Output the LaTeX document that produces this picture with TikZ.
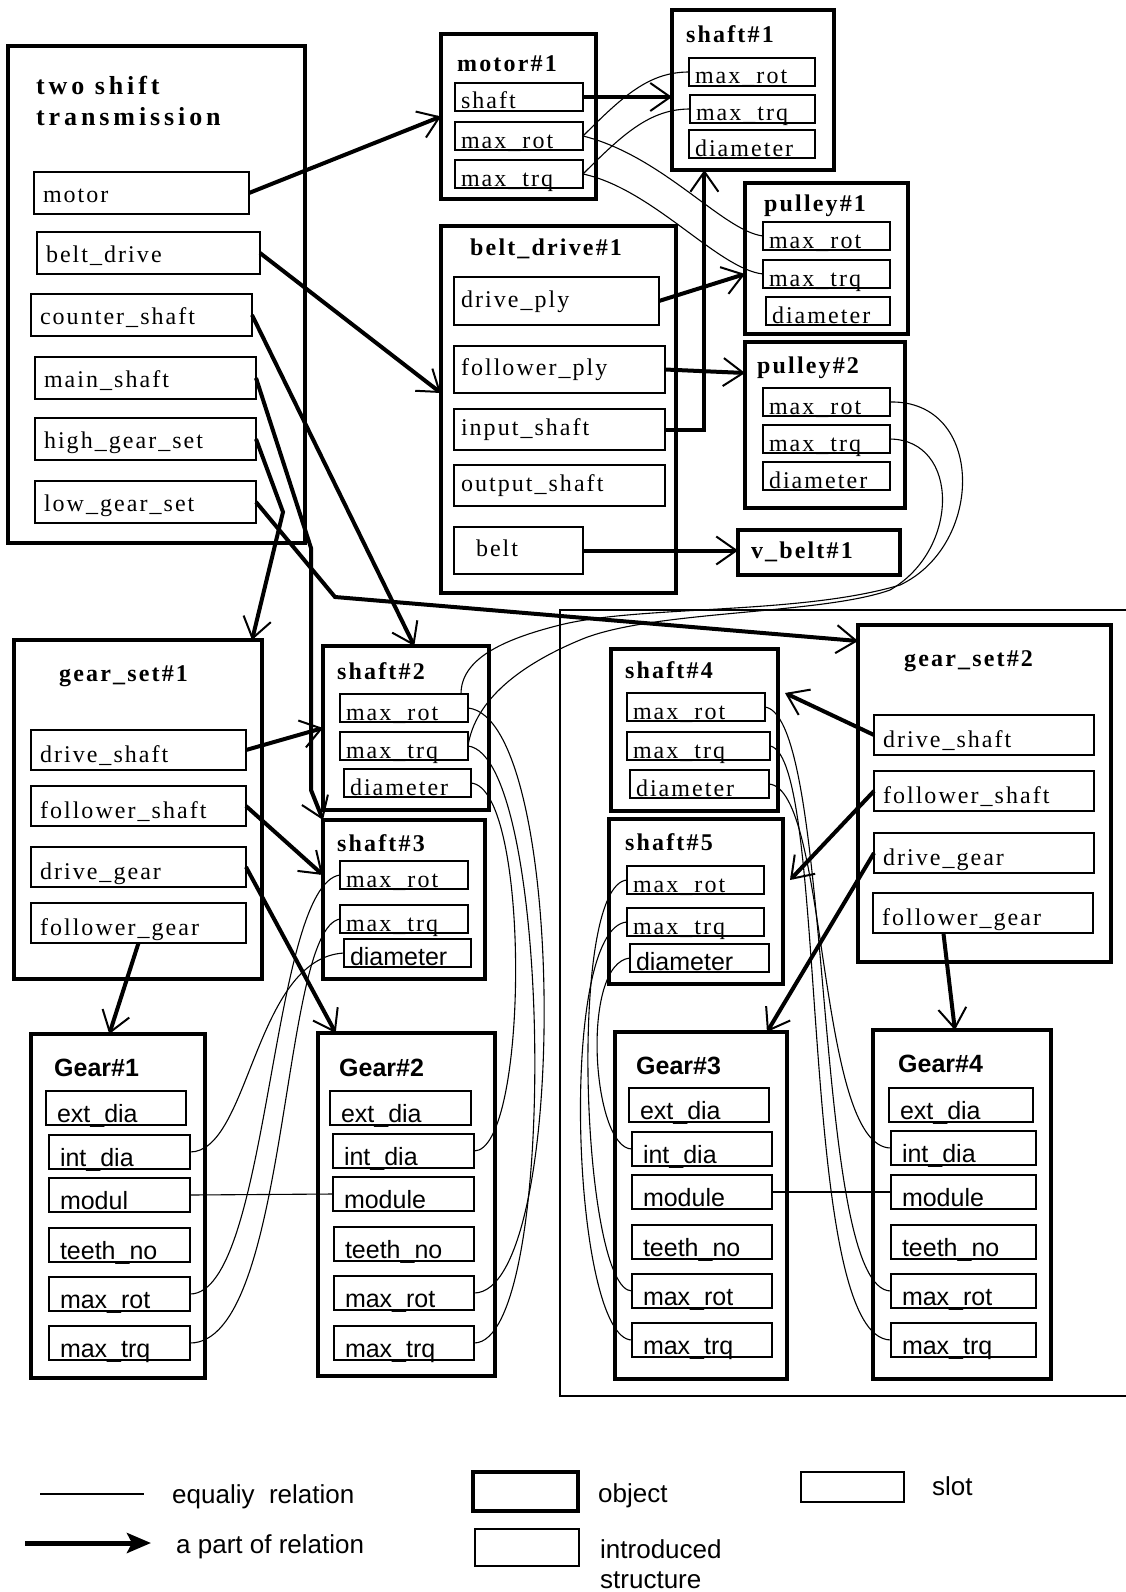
\documentclass[tikz,border=0pt]{standalone}
\usepackage{fontspec}
\newfontfamily\slotserif[LetterSpace=8.5]{Liberation Serif}
\newfontfamily\titleserif[LetterSpace=9]{Liberation Serif}
\newfontfamily\bigserif[LetterSpace=15]{Liberation Serif}
\newfontfamily\gearsans{Liberation Sans}
\usetikzlibrary{arrows.meta,calc,positioning}

\begin{document}
\begin{tikzpicture}[x=1pt,y=-1pt,
  obj/.style={draw,line width=4.5pt,inner sep=0pt,outer sep=0pt,anchor=north west},
  objtitle/.style={anchor=base west,inner sep=0pt,font=\titleserif\bfseries\fontsize{24}{28}\selectfont},
  geartitle/.style={anchor=base west,inner sep=0pt,font=\gearsans\bfseries\fontsize{25}{30}\selectfont},
  slot/.style={draw,line width=1.3pt,inner xsep=6pt,inner ysep=0pt,outer sep=0pt,anchor=north west,align=left,font=\slotserif\fontsize{24}{28}\selectfont},
  sslot/.style={slot,text height=26pt,text depth=2pt},
  tslot/.style={slot,inner xsep=9pt,text height=30pt,text depth=12pt},
  bslot/.style={slot,inner xsep=7pt,text height=18pt,text depth=6pt},
  gsslot/.style={slot,inner xsep=9pt,text height=32pt,text depth=8pt},
  gslot/.style={slot,inner xsep=11pt,text height=31pt,text depth=3pt,font=\gearsans\fontsize{25}{30}\selectfont},
  sansdia/.style={font=\gearsans\fontsize{25}{30}\selectfont},
  partof/.style={line width=4pt,-{Straight Barb[length=20pt,width=28pt,line width=2pt]}},
  eq/.style={line width=1.1pt},
  introframe/.style={line width=2pt},
  legtext/.style={anchor=base west,inner sep=0pt,font=\gearsans\fontsize{26}{30}\selectfont}]
  \useasboundingbox (0,0) rectangle (1126,1592);

  % two shift transmission
  \node[obj,minimum width=297pt,minimum height=497pt] (tst) at (8,46) {};
  \node[anchor=base west,inner sep=0pt,align=left,font=\bigserif\bfseries\fontsize{26}{32}\selectfont] (tsttitle) at (36,126) {two shift\\transmission};
  \node[tslot,text width=197pt] (tsmotor) at (34,172) {motor};
  \node[tslot,text width=205pt] (tsbelt) at (37,232) {belt\_drive};
  \node[tslot,text width=203pt] (tscounter) at (31,294) {counter\_shaft};
  \node[tslot,text width=203pt] (tsmain) at (35,357) {main\_shaft};
  \node[tslot,text width=203pt] (tshigh) at (35,418) {high\_gear\_set};
  \node[tslot,text width=203pt] (tslow) at (35,481) {low\_gear\_set};

  % motor, shaft, pulleys, belt drive
  \node[obj,minimum width=155pt,minimum height=165pt] (motor1) at (441,34) {};
  \node[objtitle] (motor1t) at (457,72) {motor\#1};
  \node[sslot,text width=116pt] (m1shaft) at (455,83) {shaft};
  \node[sslot,text width=116pt] (m1rot) at (455,122) {max\_rot};
  \node[sslot,text width=116pt] (m1trq) at (455,160) {max\_trq};

  \node[obj,minimum width=162pt,minimum height=160pt] (shaft1) at (672,10) {};
  \node[objtitle] (shaft1t) at (686,43) {shaft\#1};
  \node[sslot,text width=114pt] (s1rot) at (689,58) {max\_rot};
  \node[sslot,text width=113pt] (s1trq) at (690,95) {max\_trq};
  \node[sslot,text width=114pt] (s1dia) at (689,130) {diameter};

  \node[obj,minimum width=163pt,minimum height=151pt] (pulley1) at (745,183) {};
  \node[objtitle] (pulley1t) at (764,211) {pulley\#1};
  \node[sslot,text width=115pt] (p1rot) at (763,222) {max\_rot};
  \node[sslot,text width=115pt] (p1trq) at (763,260) {max\_trq};
  \node[sslot,text width=112pt] (p1dia) at (766,297) {diameter};

  \node[obj,minimum width=160pt,minimum height=166pt] (pulley2) at (745,342) {};
  \node[objtitle] (pulley2t) at (757,373) {pulley\#2};
  \node[sslot,text width=115pt] (p2rot) at (763,388) {max\_rot};
  \node[sslot,text width=115pt] (p2trq) at (763,425) {max\_trq};
  \node[sslot,text width=115pt] (p2dia) at (763,462) {diameter};

  \node[obj,minimum width=235pt,minimum height=367pt] (beltdrive1) at (441,226) {};
  \node[objtitle] (beltdrive1t) at (470,255) {belt\_drive\#1};
  \node[bslot,text width=191pt,minimum height=48pt] (bddrive) at (454,277) {drive\_ply};
  \node[bslot,text width=197pt,minimum height=47pt] (bdfollower) at (454,346) {follower\_ply};
  \node[bslot,text width=197pt,minimum height=41pt] (bdinput) at (454,409) {input\_shaft};
  \node[bslot,text width=197pt,minimum height=41pt] (bdoutput) at (454,465) {output\_shaft};
  \node[bslot,inner xsep=22pt,text width=85pt,minimum height=47pt] (bdbelt) at (454,527) {belt};

  \node[obj,inner xsep=13pt,text width=136pt,minimum height=45pt,align=left,text height=18pt,text depth=6pt,font=\titleserif\bfseries\fontsize{24}{28}\selectfont] (vbelt1) at (738,530) {v\_belt\#1};

  % gear set 1 with its shafts and gears
  \node[obj,minimum width=248pt,minimum height=339pt] (gearset1) at (14,640) {};
  \node[objtitle] (gearset1t) at (59,681) {gear\_set\#1};
  \node[gsslot,text width=197pt] (gs1dshaft) at (31,730) {drive\_shaft};
  \node[gsslot,text width=197pt] (gs1fshaft) at (31,786) {follower\_shaft};
  \node[gsslot,text width=197pt] (gs1dgear) at (31,847) {drive\_gear};
  \node[gsslot,text width=197pt] (gs1fgear) at (31,903) {follower\_gear};

  \node[obj,minimum width=166pt,minimum height=164pt] (shaft2) at (323,646) {};
  \node[objtitle] (shaft2t) at (337,679) {shaft\#2};
  \node[sslot,text width=116pt] (s2rot) at (340,694) {max\_rot};
  \node[sslot,text width=116pt] (s2trq) at (340,732) {max\_trq};
  \node[sslot,text width=115pt] (s2dia) at (344,769) {diameter};

  \node[obj,minimum width=162pt,minimum height=159pt] (shaft3) at (323,820) {};
  \node[objtitle] (shaft3t) at (337,851) {shaft\#3};
  \node[sslot,text width=116pt] (s3rot) at (340,861) {max\_rot};
  \node[sslot,text width=116pt] (s3trq) at (340,905) {max\_trq};
  \node[sslot,sansdia,text width=115pt] (s3dia) at (344,939) {diameter};

  \node[obj,minimum width=174pt,minimum height=344pt] (gear1) at (31,1034) {};
  \node[geartitle] (gear1t) at (54,1076) {Gear\#1};
  \node[gslot,text width=118pt] (g1ext) at (46,1091) {ext\_dia};
  \node[gslot,text width=119pt] (g1int) at (49,1135) {int\_dia};
  \node[gslot,text width=119pt] (g1mod) at (49,1178) {modul};
  \node[gslot,text width=119pt] (g1teeth) at (49,1228) {teeth\_no};
  \node[gslot,text width=119pt] (g1rot) at (49,1277) {max\_rot};
  \node[gslot,text width=119pt] (g1trq) at (49,1326) {max\_trq};

  \node[obj,minimum width=177pt,minimum height=343pt] (gear2) at (318,1033) {};
  \node[geartitle] (gear2t) at (339,1076) {Gear\#2};
  \node[gslot,text width=119pt] (g2ext) at (330,1091) {ext\_dia};
  \node[gslot,text width=119pt] (g2int) at (333,1134) {int\_dia};
  \node[gslot,text width=119pt] (g2mod) at (333,1177) {module};
  \node[gslot,text width=118pt] (g2teeth) at (334,1227) {teeth\_no};
  \node[gslot,text width=118pt] (g2rot) at (334,1276) {max\_rot};
  \node[gslot,text width=118pt] (g2trq) at (334,1326) {max\_trq};

  % introduced structure: gear set 2
  \draw[introframe] (1126,610) -- (560,610) -- (560,1396) -- (1126,1396);
  \node[obj,minimum width=253pt,minimum height=337pt] (gearset2) at (858,625) {};
  \node[objtitle] (gearset2t) at (904,666) {gear\_set\#2};
  \node[gsslot,text width=202pt] (gs2dshaft) at (874,715) {drive\_shaft};
  \node[gsslot,text width=202pt] (gs2fshaft) at (874,771) {follower\_shaft};
  \node[gsslot,text width=202pt] (gs2dgear) at (874,833) {drive\_gear};
  \node[gsslot,text width=202pt] (gs2fgear) at (873,893) {follower\_gear};

  \node[obj,minimum width=167pt,minimum height=162pt] (shaft4) at (611,649) {};
  \node[objtitle] (shaft4t) at (625,678) {shaft\#4};
  \node[sslot,text width=126pt] (s4rot) at (627,693) {max\_rot};
  \node[sslot,text width=131pt] (s4trq) at (627,732) {max\_trq};
  \node[sslot,text width=127pt] (s4dia) at (630,770) {diameter};

  \node[obj,minimum width=174pt,minimum height=165pt] (shaft5) at (609,819) {};
  \node[objtitle] (shaft5t) at (625,850) {shaft\#5};
  \node[sslot,text width=125pt] (s5rot) at (627,866) {max\_rot};
  \node[sslot,text width=125pt] (s5trq) at (627,908) {max\_trq};
  \node[sslot,sansdia,text width=127pt] (s5dia) at (630,944) {diameter};

  \node[obj,minimum width=172pt,minimum height=347pt] (gear3) at (615,1032) {};
  \node[geartitle] (gear3t) at (636,1074) {Gear\#3};
  \node[gslot,text width=118pt] (g3ext) at (629,1088) {ext\_dia};
  \node[gslot,text width=118pt] (g3int) at (632,1132) {int\_dia};
  \node[gslot,text width=118pt] (g3mod) at (632,1175) {module};
  \node[gslot,text width=118pt] (g3teeth) at (632,1225) {teeth\_no};
  \node[gslot,text width=118pt] (g3rot) at (632,1274) {max\_rot};
  \node[gslot,text width=118pt] (g3trq) at (632,1323) {max\_trq};

  \node[obj,minimum width=178pt,minimum height=349pt] (gear4) at (873,1030) {};
  \node[geartitle] (gear4t) at (898,1072) {Gear\#4};
  \node[gslot,text width=122pt] (g4ext) at (889,1088) {ext\_dia};
  \node[gslot,text width=123pt] (g4int) at (891,1131) {int\_dia};
  \node[gslot,text width=123pt] (g4mod) at (891,1175) {module};
  \node[gslot,text width=123pt] (g4teeth) at (891,1225) {teeth\_no};
  \node[gslot,text width=123pt] (g4rot) at (891,1274) {max\_rot};
  \node[gslot,text width=123pt] (g4trq) at (891,1323) {max\_trq};

  % part of relations
  \draw[partof] (tsmotor.east) -- (motor1.west);
  \draw[partof] (tsbelt.east) -- (beltdrive1.west|-bdfollower.south);
  \draw[partof] (m1shaft.east) -- (shaft1.west|-m1shaft.east);
  \draw[partof] (bddrive.east) -- (pulley1.west|-p1trq.center);
  \draw[partof] (bdfollower.east) -- (pulley2.west|-pulley2t.base);
  \draw[partof] (bdinput.east) -| ($(shaft1.south west)!0.2!(shaft1.south east)$);
  \draw[partof] (bdbelt.east) -- (vbelt1.west|-bdbelt.east);
  \draw[partof] (tscounter.east) -- ($(shaft2.north west)!0.55!(shaft2.north east)$);
  \coordinate (hbend) at (283,512);
  \draw[partof] (tshigh.east) -- (hbend) -- ($(gearset1.north west)!0.96!(gearset1.north east)$);
  \coordinate (mbend1) at (311,548);
  \coordinate (mbend2) at (311,790);
  \draw[partof] (tsmain.east) -- (mbend1) -- (mbend2) -- (shaft3.north west);
  \coordinate (lbend) at (335,597);
  \draw[partof] (tslow.east) -- (lbend) -- ([yshift=-16pt]gearset2.north west);
  \draw[partof] (gs1dshaft.east) -- (shaft2.west);
  \draw[partof] (gs1fshaft.east) -- (shaft3.west|-s3rot.center);
  \draw[partof] (gs1dgear.east) -- ($(gear2.north west)!0.1!(gear2.north east)$);
  \draw[partof] (gs1fgear.south) -- ($(gear1.north west)!0.45!(gear1.north east)$);
  \draw[partof] (gs2dshaft.west) -- ($(s4rot.north east)+(20,0)$);
  \draw[partof] (gs2fshaft.west) -- ($(shaft5.east|-s5rot.center)+(7,0)$);
  \draw[partof] (gs2dgear.west) -- ($(gear3.north east)+(-20,0)$);
  \draw[partof] ($(gs2fgear.south west)!0.32!(gs2fgear.south east)$) -- ($(gear4.north west)!0.46!(gear4.north east)$);

  % equality relations
  \draw[eq] (m1rot.east) .. controls +(40,-40) and +(-40,0) .. (s1rot.west);
  \draw[eq] (m1trq.east) .. controls +(40,-40) and +(-40,0) .. (s1trq.west);
  \draw[eq] (m1rot.east) .. controls +(80,20) and +(-40,-5) .. (p1rot.west);
  \draw[eq] (m1trq.east) .. controls +(70,15) and +(-45,-5) .. (p1trq.west);
  \draw[eq] (p2rot.east) .. controls (985,400) and (985,545) .. (900,585)
    .. controls (800,615) and (640,605) .. (560,625)
    .. controls (500,640) and (461,660) .. ($(s2rot.north east)+(-7,0)$);
  \draw[eq] (p2trq.east) .. controls (960,440) and (960,550) .. (890,590)
    .. controls (820,615) and (650,610) .. (580,640)
    .. controls (520,665) and (475,700) .. (s2trq.east);
  \draw[eq] (s2rot.east) .. controls +(100,10) and +(95,0) .. (g2rot.east);
  \draw[eq] (s2trq.east) .. controls +(85,10) and +(85,0) .. (g2trq.east);
  \draw[eq] (s2dia.east) .. controls +(60,5) and +(55,0) .. (g2int.east);
  \draw[eq] (s3rot.west) .. controls +(-70,10) and +(80,0) .. (g1rot.east);
  \draw[eq] (s3trq.west) .. controls +(-60,10) and +(100,0) .. (g1trq.east);
  \draw[eq] (s3dia.west) .. controls +(-90,5) and +(60,0) .. (g1int.east);
  \draw[eq] (g1mod.east) -- (g2mod.west);
  \draw[eq] (s4rot.east) .. controls +(70,10) and +(-80,0) .. (g4rot.west);
  \draw[eq] (s4trq.east) .. controls +(60,10) and +(-95,0) .. (g4trq.west);
  \draw[eq] (s4dia.east) .. controls +(60,5) and +(-75,0) .. (g4int.west);
  \draw[eq] (s5rot.west) .. controls +(-60,5) and +(-50,0) .. (g3rot.west);
  \draw[eq] (s5trq.west) .. controls +(-70,5) and +(-60,0) .. (g3trq.west);
  \draw[eq] (s5dia.west) .. controls +(-50,5) and +(-40,0) .. (g3int.west);
  \draw[eq] (g3mod.east) -- (g4mod.west);

  % legend
  \coordinate (eqa) at (40,1494);
  \coordinate (eqb) at (144,1494);
  \draw[eq] (eqa) -- (eqb);
  \node[legtext] (eqtext) at (172,1503) {equaliy\ \ relation};
  \coordinate (pa) at (25,1543);
  \coordinate (pb) at (151,1543);
  \draw[line width=5pt,-{Stealth[length=24pt,width=20pt,inset=5pt]}] (pa) -- (pb);
  \node[legtext] (parttext) at (176,1553) {a part of relation};
  \node[obj,minimum width=105pt,minimum height=39pt] (legobj) at (473,1472) {};
  \node[legtext] (objtext) at (598,1502) {object};
  \node[draw,line width=1.5pt,inner sep=0pt,anchor=north west,minimum width=104pt,minimum height=37pt] (legintro) at (474,1528) {};
  \node[legtext,align=left] (introtext) at (600,1588) {introduced\\structure};
  \node[slot,minimum width=103pt,minimum height=30pt] (legslot) at (801,1472) {};
  \node[legtext] (slottext) at (932,1495) {slot};
\end{tikzpicture}
\end{document}
